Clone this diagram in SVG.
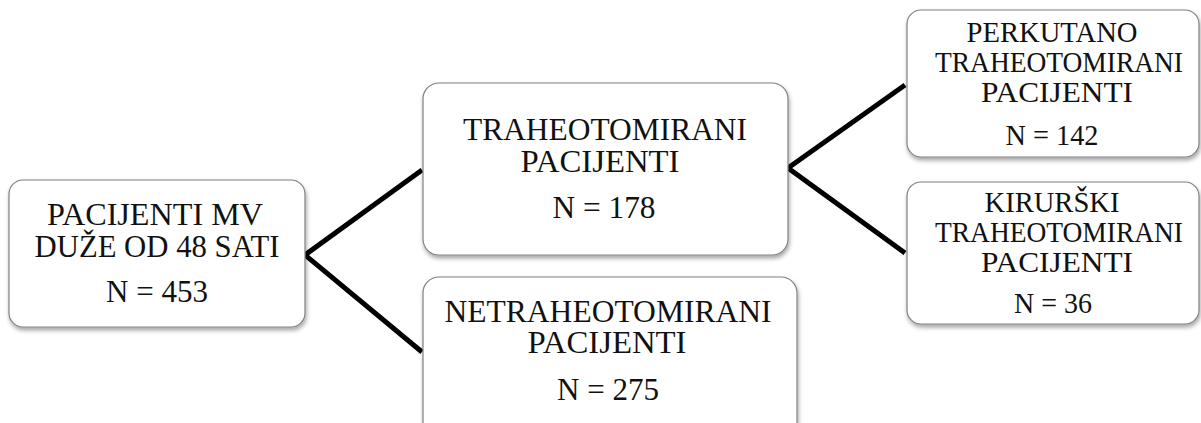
<svg xmlns="http://www.w3.org/2000/svg" width="1201" height="423" viewBox="0 0 1201 423">
<defs>
<filter id="sh" x="-10%" y="-10%" width="120%" height="130%">
<feDropShadow dx="1" dy="3" stdDeviation="2" flood-color="#000" flood-opacity="0.35"/>
</filter>
<style>
.box{fill:#fff;stroke:#808080;stroke-width:1.2;filter:url(#sh)}
text{font-family:'Liberation Serif','Times New Roman',Times,'Nimbus Roman','Nimbus Roman No9 L',FreeSerif,'Noto Serif','DejaVu Serif',serif;font-size:32px;fill:#111;text-anchor:middle}
text.s{font-size:30px}
.c{stroke:#000;stroke-width:5;fill:none;stroke-linejoin:miter}
</style>
</defs>
<rect width="1201" height="423" fill="#fff"/>
<g id="connectors">
<polyline class="c" points="422,170 305,255 422,352"/>
<polyline class="c" points="905,85 788,168 905,253"/>
</g>
<g id="n1">
<rect class="box" x="9" y="180" width="296" height="147" rx="14"/>
<text x="155" y="225" textLength="216" lengthAdjust="spacingAndGlyphs">PACIJENTI MV</text>
<text x="157" y="257" textLength="245" lengthAdjust="spacingAndGlyphs">DUŽE OD 48 SATI</text>
<text x="157" y="302" textLength="102" lengthAdjust="spacingAndGlyphs">N = 453</text>
</g>
<g id="n2">
<rect class="box" x="423" y="83" width="365" height="172" rx="16"/>
<text x="605" y="140" textLength="284" lengthAdjust="spacingAndGlyphs">TRAHEOTOMIRANI</text>
<text x="600" y="172" textLength="159" lengthAdjust="spacingAndGlyphs">PACIJENTI</text>
<text x="604" y="218" textLength="103" lengthAdjust="spacingAndGlyphs">N = 178</text>
</g>
<g id="n3">
<rect class="box" x="423" y="277" width="374" height="170" rx="16"/>
<text x="608" y="322" textLength="327" lengthAdjust="spacingAndGlyphs">NETRAHEOTOMIRANI</text>
<text x="607" y="353" textLength="159" lengthAdjust="spacingAndGlyphs">PACIJENTI</text>
<text x="608" y="400" textLength="102" lengthAdjust="spacingAndGlyphs">N = 275</text>
</g>
<g id="n4">
<rect class="box" x="907" y="10" width="292" height="147" rx="14"/>
<text class="s" x="1052" y="42" textLength="171" lengthAdjust="spacingAndGlyphs">PERKUTANO</text>
<text class="s" x="1059" y="72" textLength="248" lengthAdjust="spacingAndGlyphs">TRAHEOTOMIRANI</text>
<text class="s" x="1057" y="102" textLength="152" lengthAdjust="spacingAndGlyphs">PACIJENTI</text>
<text class="s" x="1052" y="145" textLength="93" lengthAdjust="spacingAndGlyphs">N = 142</text>
</g>
<g id="n5">
<rect class="box" x="907" y="182" width="292" height="142" rx="14"/>
<text class="s" x="1052" y="212" textLength="135" lengthAdjust="spacingAndGlyphs">KIRURŠKI</text>
<text class="s" x="1059" y="242" textLength="248" lengthAdjust="spacingAndGlyphs">TRAHEOTOMIRANI</text>
<text class="s" x="1057" y="272" textLength="152" lengthAdjust="spacingAndGlyphs">PACIJENTI</text>
<text class="s" x="1053" y="313" textLength="78" lengthAdjust="spacingAndGlyphs">N = 36</text>
</g>
</svg>
